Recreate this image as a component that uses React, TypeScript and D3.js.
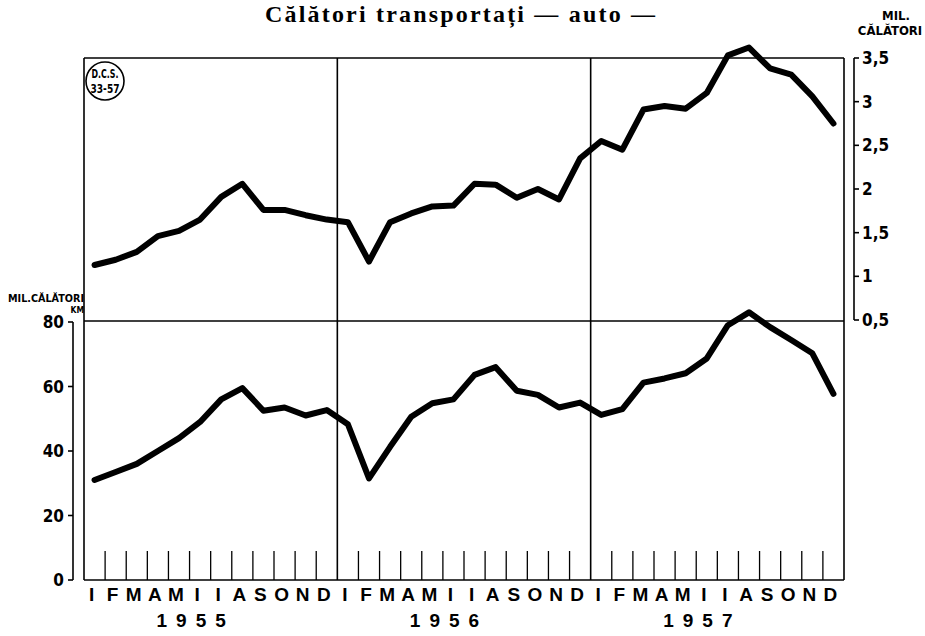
import React from "react";
import * as d3 from "d3";

const years = ["1955", "1956", "1957"];
const months = ["I", "F", "M", "A", "M", "I", "I", "A", "S", "O", "N", "D"];

// milioane calatori (scala din dreapta)
const calatori = [
  1.13, 1.19, 1.28, 1.46, 1.52, 1.65, 1.91, 2.06, 1.76, 1.76, 1.7, 1.65,
  1.62, 1.17, 1.62, 1.72, 1.8, 1.81, 2.06, 2.05, 1.9, 2.0, 1.88, 2.35,
  2.55, 2.45, 2.91, 2.95, 2.92, 3.1, 3.53, 3.62, 3.38, 3.31, 3.06, 2.75,
];

// milioane calatori-km (scala din stanga)
const calatoriKm = [
  31, 33.5, 36, 40, 44, 49, 56, 59.5, 52.5, 53.5, 51, 52.7,
  48.3, 31.5, 41.3, 50.6, 54.8, 56, 63.6, 66, 58.7, 57.4, 53.5, 55,
  51.2, 53, 61.2, 62.5, 64.1, 68.7, 79, 83, 78.4, 74.4, 70.3, 57.7,
];

const topTicks = [0.5, 1, 1.5, 2, 2.5, 3, 3.5];
const botTicks = [0, 20, 40, 60, 80];

const W = 925;
const H = 636;
const left = 84;
const right = 844;
const top = 58;
const mid = 321;
const bottom = 580;

const narrow = "'Liberation Sans Narrow', 'DejaVu Sans Condensed', 'Liberation Sans', sans-serif";

export default function App() {
  const x = d3.scaleLinear().domain([0, 36]).range([left, right]);
  const yTop = d3.scaleLinear().domain([0.5, 3.5]).range([320, top]);
  const yBot = d3.scaleLinear().domain([0, 80]).range([bottom, 322]);

  const lineTop = d3
    .line<number>()
    .x((_, i) => x(i + 0.5))
    .y((d) => yTop(d));
  const lineBot = d3
    .line<number>()
    .x((_, i) => x(i + 0.5))
    .y((d) => yBot(d));

  const fmt = (v: number) => String(v).replace(".", ",");
  const rAxisX = 854;
  const lAxisX = 73;

  return (
    <svg
      width={W}
      height={H}
      style={{ position: "absolute", left: 0, top: 0, background: "#fff" }}
    >
      {/* titlu */}
      <text
        x={265}
        y={22}
        textLength={390}
        lengthAdjust="spacing"
        fontFamily="'Liberation Serif', serif"
        fontWeight="bold"
        fontSize={24}
      >
        Călători transportați — auto —
      </text>

      {/* cadru */}
      <g stroke="#000" strokeWidth={1.6} fill="none">
        <line x1={left} x2={right} y1={top} y2={top} />
        <line x1={left} x2={right} y1={mid} y2={mid} />
        <line x1={left} x2={right} y1={bottom} y2={bottom} />
        {[0, 12, 24, 36].map((m) => (
          <line key={m} x1={x(m)} x2={x(m)} y1={top} y2={bottom} />
        ))}
      </g>

      {/* marcaje luni */}
      <g stroke="#000" strokeWidth={1.3}>
        {d3.range(1, 36)
          .filter((m) => m % 12 !== 0)
          .map((m) => (
            <line key={m} x1={x(m)} x2={x(m)} y1={551} y2={bottom} />
          ))}
      </g>

      {/* axa dreapta */}
      <g stroke="#000" strokeWidth={1.6} fill="none">
        <line x1={rAxisX} x2={rAxisX} y1={yTop(3.5)} y2={yTop(0.5)} />
        {topTicks.map((t) => (
          <line key={t} x1={rAxisX} x2={rAxisX + 5} y1={yTop(t)} y2={yTop(t)} />
        ))}
      </g>
      <g fontFamily={narrow} fontWeight="bold" fontSize={17}>
        {topTicks.map((t) => (
          <text key={t} x={rAxisX + 8} y={yTop(t) + 6}>
            {fmt(t)}
          </text>
        ))}
        <text x={896} y={20} textAnchor="middle" fontSize={13}>
          MIL.
        </text>
        <text x={890} y={35} textAnchor="middle" fontSize={13}>
          CĂLĂTORI
        </text>
      </g>

      {/* axa stanga */}
      <g stroke="#000" strokeWidth={1.6} fill="none">
        <line x1={lAxisX} x2={lAxisX} y1={yBot(80)} y2={yBot(0)} />
        {botTicks.map((t) => (
          <line key={t} x1={lAxisX - 5} x2={lAxisX} y1={yBot(t)} y2={yBot(t)} />
        ))}
      </g>
      <g fontFamily={narrow} fontWeight="bold" fontSize={17}>
        {botTicks.map((t) => (
          <text key={t} x={lAxisX - 9} y={yBot(t) + 6} textAnchor="end">
            {t}
          </text>
        ))}
        <text x={8} y={302} fontSize={10.5} textLength={76} lengthAdjust="spacingAndGlyphs">
          MIL.CĂLĂTORI
        </text>
        <text x={84} y={313} fontSize={8.5} textAnchor="end">
          KM
        </text>
      </g>

      {/* insigna */}
      <circle cx={105} cy={81} r={19} fill="#fff" stroke="#000" strokeWidth={1.6} />
      <g fontFamily={narrow} fontWeight="bold" fontSize={13} textAnchor="middle">
        <text x={105} y={78} textLength={27} lengthAdjust="spacingAndGlyphs">D.C.S.</text>
        <text x={105} y={93} textLength={29} lengthAdjust="spacingAndGlyphs">33-57</text>
      </g>

      {/* serii */}
      <path
        d={lineTop(calatori) ?? ""}
        fill="none"
        stroke="#000"
        strokeWidth={6}
        strokeLinejoin="round"
        strokeLinecap="round"
      />
      <path
        d={lineBot(calatoriKm) ?? ""}
        fill="none"
        stroke="#000"
        strokeWidth={6}
        strokeLinejoin="round"
        strokeLinecap="round"
      />

      {/* etichete luni si ani */}
      <g fontFamily="'Liberation Sans', sans-serif" fontWeight="bold" fontSize={19} textAnchor="middle">
        {d3.range(36).map((i) => (
          <text key={i} x={x(i + 0.5) - 3} y={601}>
            {months[i % 12]}
          </text>
        ))}
        {years.map((yr, k) => (
          <text
            key={yr}
            x={x(k * 12 + 6) - 15}
            y={627}
            style={{ letterSpacing: "9px" }}
          >
            {yr}
          </text>
        ))}
      </g>
    </svg>
  );
}
